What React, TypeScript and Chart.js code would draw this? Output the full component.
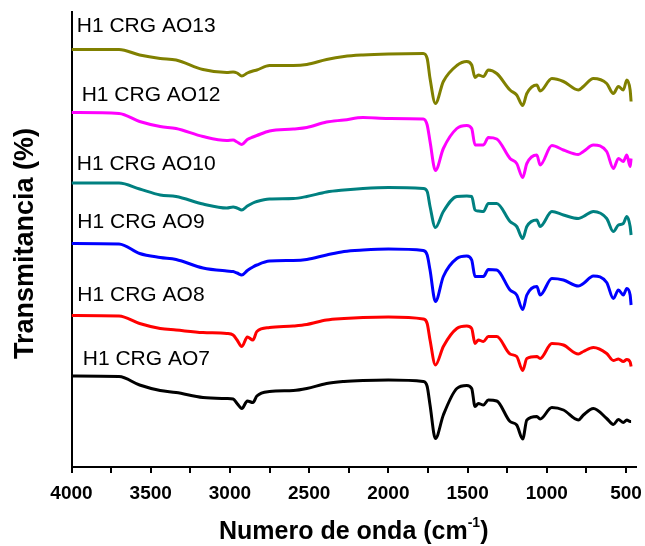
import { useEffect, useRef } from "react";
import { Chart, registerables } from "chart.js";

Chart.register(...registerables);

// Wavenumber grid (cm-1), shared by all spectra
const wavenumbers = [
  4000, 3700, 3570, 3440, 3340, 3170, 3020, 2980, 2955, 2925, 2890, 2855, 2830,
  2750, 2600, 2515, 2390, 2280, 2160, 2000, 1780, 1755, 1737, 1703, 1653, 1568,
  1505, 1474, 1453, 1432, 1400, 1369, 1316, 1232, 1190, 1152, 1126, 1063, 1042,
  968, 895, 801, 769, 706, 622, 580, 548, 517, 495, 474, 468,
];

// Stacked transmittance traces (offset units)
const ao13 = [
  83.5, 83.5, 82.4, 81.7, 81.4, 79.5, 78.9, 79.0, 78.8, 78.2, 78.8, 79.2, 79.4,
  80.3, 80.3, 80.5, 81.5, 82.1, 82.4, 82.6, 82.7, 81.7, 77.7, 72.7, 77.1, 80.3,
  81.1, 80.4, 77.9, 78.4, 78.1, 79.4, 78.7, 75.4, 74.4, 72.3, 74.7, 76.4, 75.2,
  77.7, 77.1, 75.4, 76.1, 77.7, 76.7, 74.7, 76.1, 75.4, 77.4, 75.4, 73.1,
];
const ao12 = [
  70.9, 70.7, 69.1, 68.1, 67.7, 66.1, 65.3, 65.4, 65.0, 64.5, 65.5, 66.0, 66.3,
  67.2, 67.6, 67.9, 69.0, 69.4, 69.9, 69.7, 69.6, 68.4, 65.1, 59.3, 63.7, 67.7,
  68.3, 67.7, 64.4, 64.4, 64.4, 65.9, 65.6, 61.7, 60.7, 57.9, 60.7, 62.4, 60.4,
  64.3, 63.4, 62.5, 63.1, 64.4, 63.1, 59.7, 61.7, 61.1, 62.4, 60.1, 61.7,
];
const ao10 = [
  56.8, 56.8, 55.6, 54.4, 54.1, 52.6, 51.8, 52.0, 51.8, 51.4, 52.2, 52.8, 53.1,
  53.6, 53.7, 54.1, 55.0, 55.4, 55.7, 55.9, 55.7, 55.1, 52.1, 47.9, 51.1, 54.1,
  54.2, 54.1, 51.4, 51.2, 51.1, 52.7, 52.7, 49.1, 48.1, 45.7, 48.1, 49.4, 48.1,
  51.1, 50.4, 49.7, 50.1, 51.1, 49.7, 47.1, 48.4, 48.7, 50.1, 48.1, 46.4,
];
const ao9 = [
  44.7, 44.6, 42.7, 41.9, 41.5, 39.8, 39.2, 39.1, 38.8, 38.4, 39.3, 40.0, 40.4,
  41.2, 41.3, 41.5, 42.4, 43.1, 43.4, 43.6, 43.3, 42.4, 39.4, 33.1, 38.1, 41.7,
  42.2, 41.4, 38.1, 38.1, 38.1, 39.5, 39.4, 35.4, 34.4, 31.5, 34.4, 36.1, 34.4,
  37.7, 37.4, 36.2, 36.7, 38.2, 36.9, 33.7, 35.4, 34.4, 35.7, 34.4, 32.4,
];
const ao8 = [
  30.3, 30.2, 28.7, 27.7, 27.4, 26.9, 26.7, 26.4, 25.4, 24.1, 26.0, 25.4, 27.1,
  27.9, 28.2, 28.5, 29.4, 29.7, 29.9, 30.0, 29.6, 28.7, 25.4, 20.4, 24.1, 27.7,
  28.2, 27.7, 24.7, 25.4, 25.1, 26.1, 26.1, 22.6, 22.1, 19.3, 21.7, 22.1, 21.7,
  24.7, 24.4, 22.6, 23.1, 23.9, 22.7, 21.3, 21.6, 21.1, 21.5, 21.0, 20.1,
];
const ao7 = [
  18.2, 18.1, 16.4, 15.3, 14.9, 13.9, 13.7, 13.6, 12.7, 11.7, 13.2, 12.9, 14.2,
  15.1, 15.3, 15.7, 16.7, 17.1, 17.3, 17.4, 17.1, 16.1, 12.4, 5.7, 10.4, 15.7,
  16.3, 15.7, 12.1, 12.7, 12.4, 13.4, 13.2, 9.1, 8.4, 5.6, 9.4, 10.1, 9.6,
  11.9, 11.4, 9.4, 10.4, 11.7, 9.7, 8.5, 9.5, 8.9, 9.4, 9.1, 9.1,
];

const seriesNames = [
  "H1 CRG AO13",
  "H1 CRG AO12",
  "H1 CRG AO10",
  "H1 CRG AO9",
  "H1 CRG AO8",
  "H1 CRG AO7",
];
const seriesValues = [ao13, ao12, ao10, ao9, ao8, ao7];
const seriesColors = ["#808000", "#ff00ff", "#008080", "#0000ff", "#ff0000", "#000000"];

const xTickValues = [
  4000, 3750, 3500, 3250, 3000, 2750, 2500, 2250, 2000, 1750, 1500, 1250, 1000, 750, 500,
];

// Where each sample name sits, in data units (wavenumber, offset)
const labelAnchors: [number, number][] = [
  [3967, 88.2],
  [3936, 74.4],
  [3967, 60.5],
  [3963, 48.9],
  [3963, 34.3],
  [3929, 21.5],
];

const FONT = '"Liberation Sans", Arial, sans-serif';

const annotations = {
  id: "annotations",
  afterDraw(chart: any) {
    const { ctx, chartArea } = chart;
    const xs = chart.scales.x;
    const ys = chart.scales.y;
    ctx.save();
    ctx.fillStyle = "#000";

    // sample names above each trace
    ctx.font = `21px ${FONT}`;
    ctx.textAlign = "left";
    ctx.textBaseline = "middle";
    labelAnchors.forEach(([wn, v], i) => {
      ctx.fillText(seriesNames[i], xs.getPixelForValue(wn), ys.getPixelForValue(v));
    });

    // y axis title
    ctx.save();
    ctx.translate(33, (chartArea.top + chartArea.bottom) / 2 + 4);
    ctx.rotate(-Math.PI / 2);
    ctx.font = `bold 27px ${FONT}`;
    ctx.textAlign = "center";
    ctx.textBaseline = "alphabetic";
    ctx.fillText("Transmitancia (%)", 0, 0);
    ctx.restore();

    // x axis title with superscript exponent
    const main = "Numero de onda (cm";
    const sup = "-1";
    const tail = ")";
    const bigFont = `bold 25px ${FONT}`;
    const supFont = `bold 14px ${FONT}`;
    ctx.font = bigFont;
    const wMain = ctx.measureText(main).width;
    const wTail = ctx.measureText(tail).width;
    ctx.font = supFont;
    const wSup = ctx.measureText(sup).width;
    const total = wMain + wSup + wTail;
    const cx = (chartArea.left + chartArea.right) / 2;
    let x0 = cx - total / 2;
    const base = 539;
    ctx.textAlign = "left";
    ctx.textBaseline = "alphabetic";
    ctx.font = bigFont;
    ctx.fillText(main, x0, base);
    x0 += wMain;
    ctx.font = supFont;
    ctx.fillText(sup, x0, base - 12);
    x0 += wSup;
    ctx.font = bigFont;
    ctx.fillText(tail, x0, base);
    ctx.restore();
  },
};

export default function App() {
  const canvasRef = useRef<HTMLCanvasElement>(null);

  useEffect(() => {
    const canvas = canvasRef.current;
    if (!canvas) return;
    const chart = new Chart(canvas, {
      type: "line",
      data: {
        datasets: seriesValues.map((vals, i) => ({
          label: seriesNames[i],
          data: wavenumbers.map((wn, j) => ({ x: wn, y: vals[j] })),
          borderColor: seriesColors[i],
          backgroundColor: seriesColors[i],
          borderWidth: 3,
          pointRadius: 0,
          fill: false,
          cubicInterpolationMode: "monotone" as const,
        })),
      },
      options: {
        animation: false,
        responsive: false,
        devicePixelRatio: 1,
        layout: { padding: { top: 12, right: 9, left: 0, bottom: 0 } },
        plugins: {
          legend: { display: false },
          tooltip: { enabled: false },
        },
        scales: {
          x: {
            type: "linear",
            reverse: true,
            min: 437,
            max: 4000,
            afterBuildTicks: (s: any) => {
              s.ticks = xTickValues.map((v) => ({ value: v }));
            },
            afterFit: (s: any) => {
              s.height = 79;
              s.paddingLeft = 0;
              s.paddingRight = 0;
            },
            ticks: {
              autoSkip: false,
              maxRotation: 0,
              padding: 9,
              color: "#000",
              font: { family: FONT, weight: "bold", size: 19 },
              callback: (v: any) => (Number(v) % 500 === 0 ? String(v) : ""),
            },
            grid: {
              display: true,
              drawOnChartArea: false,
              drawTicks: true,
              tickLength: 6,
              color: "#000",
              lineWidth: 2,
            },
            border: { display: true, color: "#000", width: 2 },
            title: { display: false },
          },
          y: {
            type: "linear",
            min: 0,
            max: 91,
            afterFit: (s: any) => {
              s.width = 71.5;
              s.paddingTop = 0;
              s.paddingBottom = 0;
            },
            ticks: { display: false },
            grid: { display: false },
            border: { display: true, color: "#000", width: 2 },
            title: { display: false },
          },
        },
      },
      plugins: [annotations],
    });
    return () => chart.destroy();
  }, []);

  return (
    <div style={{ position: "fixed", left: 0, top: 0, width: 645, height: 546, background: "#fff" }}>
      <canvas ref={canvasRef} width={645} height={546} style={{ display: "block" }} />
    </div>
  );
}
